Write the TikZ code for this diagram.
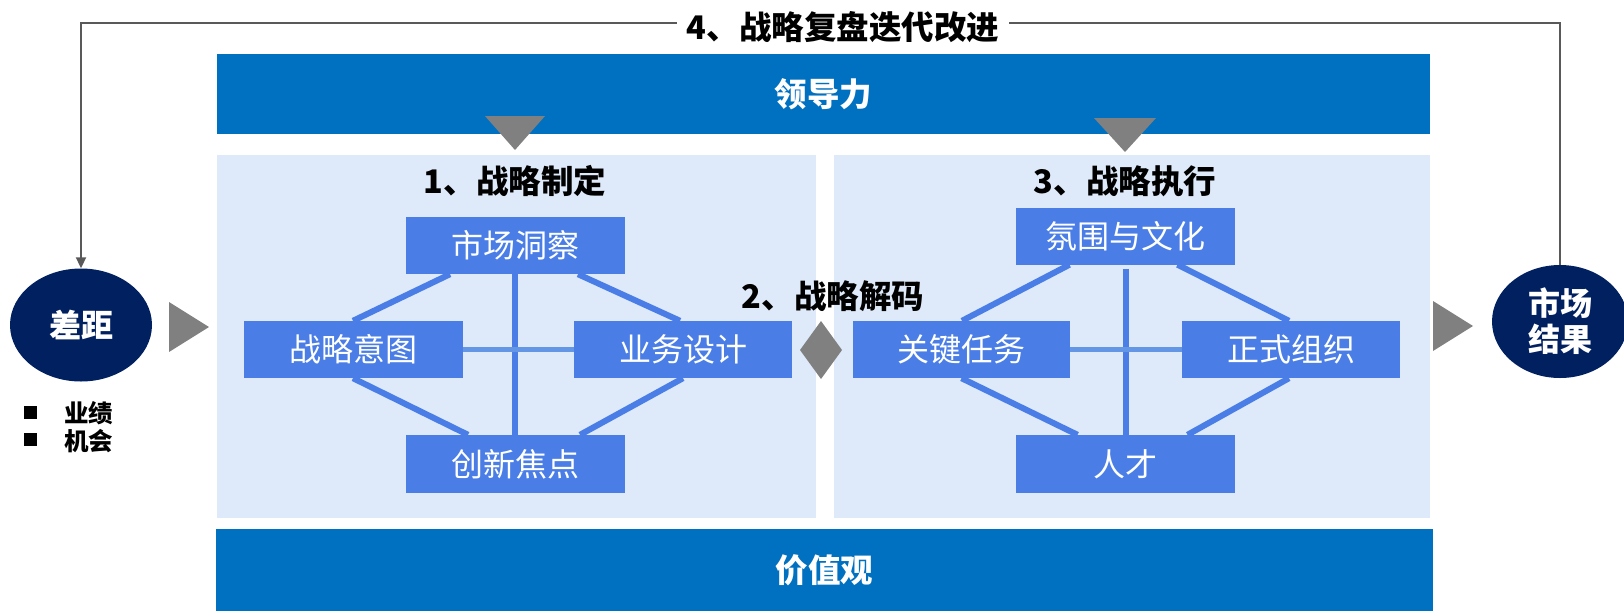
\documentclass[tikz,border=0pt]{standalone}
\usepackage{fontspec}
\setmainfont{Noto Sans CJK SC}
\usetikzlibrary{calc,arrows.meta,shapes.geometric}
\definecolor{barblue}{HTML}{0070C0}
\definecolor{panelblue}{HTML}{DEEAF9}
\definecolor{boxblue}{HTML}{4A7EE6}
\definecolor{linkblue}{HTML}{4A7EE6}
\definecolor{hlinkblue}{HTML}{6397E6}
\definecolor{navy}{HTML}{002060}
\definecolor{trigray}{HTML}{808080}
\definecolor{fbgray}{HTML}{595959}
\pgfdeclarelayer{bg}
\pgfdeclarelayer{mid}
\pgfsetlayers{bg,mid,main}
\begin{document}
\begin{tikzpicture}[x=1pt,y=-1pt,
  bar/.style={fill=barblue, draw=none, text=white, inner sep=0pt,
    font=\fontsize{32.5}{38}\selectfont\bfseries},
  panel/.style={fill=panelblue, draw=none, inner sep=0pt},
  elem/.style={fill=boxblue, draw=none, text=white, minimum width=219pt,
    minimum height=57pt, inner sep=0pt, font=\fontsize{32}{38}\selectfont},
  head/.style={font=\fontsize{32.5}{38}\selectfont\bfseries, text=black, inner sep=0pt},
  link/.style={draw=linkblue, line width=6pt},
  hlink/.style={draw=hlinkblue, line width=5pt},
  oval/.style={ellipse, fill=navy, draw=none, text=white, inner sep=0pt,
    align=center, font=\fontsize{32}{36}\selectfont\bfseries},
  marker/.style={fill=trigray, draw=none},
  feedback/.style={draw=fbgray, line width=2pt},
  bullet/.style={fill=black, draw=none, minimum size=13pt, inner sep=0pt},
  btext/.style={font=\fontsize{24.5}{28}\selectfont\bfseries, text=black, inner sep=0pt, anchor=west}
]
\useasboundingbox (0,0) rectangle (1624,611);

% bars
\node[bar, minimum width=1213pt, minimum height=80pt] (lead) at (823.5,94) {领导力};
\node[bar, minimum width=1217pt, minimum height=82pt] (val) at (824.5,570) {价值观};

% panels
\begin{pgfonlayer}{bg}
\node[panel, minimum width=599pt, minimum height=363pt] (pl) at (516.5,336.5) {};
\node[panel, minimum width=596pt, minimum height=363pt] (pr) at (1132,336.5) {};
\end{pgfonlayer}

% headings
\node[head] (h1) at (515,181) {1、战略制定};
\node[head] (h3) at (1125,181) {3、战略执行};
\node[head] (h2) at (833,296) {2、战略解码};

% left group
\node[elem] (mi) at (515,245.5) {市场洞察};
\node[elem] (zl) at (353,349.5) {战略意图};
\node[elem, minimum width=218pt] (yw) at (683,349.5) {业务设计};
\node[elem, minimum height=58pt] (cx) at (515,464) {创新焦点};

% right group
\node[elem] (fw) at (1125.5,236) {氛围与文化};
\node[elem, minimum width=217pt] (gj) at (961.5,349.5) {关键任务};
\node[elem, minimum width=218pt] (zs) at (1291,349.5) {正式组织};
\node[elem, minimum height=58pt] (rc) at (1125.5,464) {人才};

\begin{pgfonlayer}{mid}
\draw[link] ([xshift=-65pt]mi.south) -- (zl.north);
\draw[link] ([xshift=63pt]mi.south) -- ([xshift=-3pt]yw.north);
\draw[link] (mi.south) -- (cx.north);
\draw[hlink] (zl.east) -- (yw.west);
\draw[link] (zl.south) -- ([xshift=-47pt]cx.north);
\draw[link] (yw.south) -- ([xshift=65pt]cx.north);

\draw[link] ([xshift=-56pt]fw.south) -- ([xshift=0.5pt]gj.north);
\draw[link] ([xshift=52pt]fw.south) -- ([xshift=-2pt]zs.north);
\draw[link] ([yshift=-4pt]fw.south) -- (rc.north);
\draw[hlink] (gj.east) -- (zs.west);
\draw[link] (gj.south) -- ([xshift=-48pt]rc.north);
\draw[link] ([xshift=-2pt]zs.south) -- ([xshift=62pt]rc.north);
\end{pgfonlayer}

% markers
\fill[marker] (485,116) -- (545,116) -- (515,150) -- cycle;
\fill[marker] (1094,118) -- (1156,118) -- (1125,152) -- cycle;
\fill[marker] (800,350) -- (821,321) -- (842,350) -- (821,379) -- cycle;
\fill[marker] (169,302) -- (209,327) -- (169,352) -- cycle;
\fill[marker] (1433,301) -- (1473,326) -- (1433,351) -- cycle;

% ovals
\node[oval, minimum width=142pt, minimum height=113pt] (cj) at (81,325) {差距};
\node[oval, minimum width=136pt, minimum height=113pt] (sc) at (1560,321.5) {市场\\结果};

% feedback loop
\coordinate (tr) at (sc.north |- 0,23);
\coordinate (tl) at (cj.north |- 0,23);
\draw[feedback, -{Triangle[length=11pt,width=10pt]}] (sc.north) -- (tr) -- (tl) -- (cj.north);
\node[head, fill=white, inner xsep=10pt, inner ysep=2pt] (t4) at (843,27) {4、战略复盘迭代改进};

% bullets
\node[bullet] (b1) at (30,412.5) {};
\node[btext] (bt1) at (64,413) {业绩};
\node[bullet] (b2) at (30,439.5) {};
\node[btext] (bt2) at (64,441) {机会};
\end{tikzpicture}
\end{document}
